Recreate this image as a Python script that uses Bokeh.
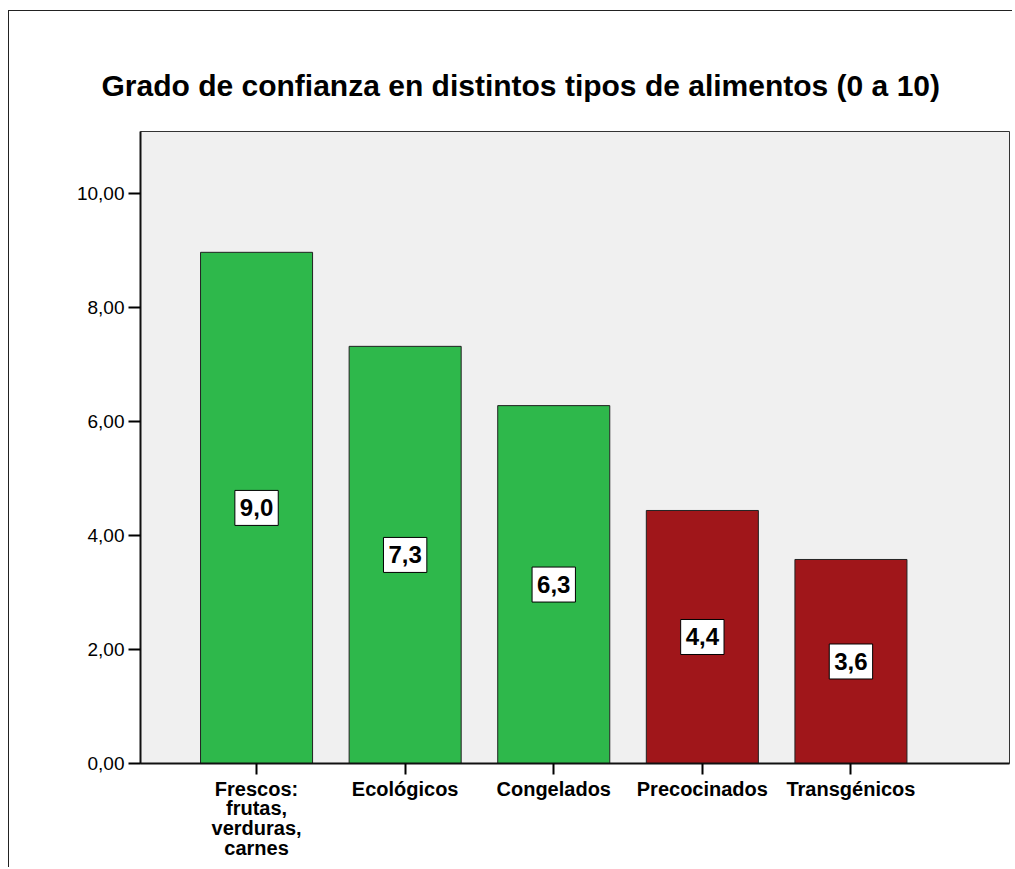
from bokeh.plotting import figure
from bokeh.models import Range1d, FixedTicker, ColumnDataSource
from bokeh.core.properties import value
from bokeh.embed import file_html
from bokeh.resources import INLINE

categories = ["Frescos:\nfrutas,\nverduras,\ncarnes", "Ecológicos", "Congelados", "Precocinados", "Transgénicos"]
values = [8.97, 7.32, 6.28, 4.44, 3.58]
bar_colors = ["#2EB84B", "#2EB84B", "#2EB84B", "#A0161A", "#A0161A"]
y_ticks = [0, 2, 4, 6, 8, 10]
y_tick_labels = ["0,00", "2,00", "4,00", "6,00", "8,00", "10,00"]
title_text = "Grado de confianza en distintos tipos de alimentos (0 a 10)"

FONT = "Liberation Sans"

xs = list(range(len(categories)))
labels = [f"{v:.1f}".replace(".", ",") for v in values]
src = ColumnDataSource(dict(x=xs, top=values, color=bar_colors,
                            mid=[v / 2 for v in values], lab=labels))

p = figure(width=1004, height=857, output_backend="svg", toolbar_location=None,
           x_range=Range1d(-0.781, 5.067), y_range=Range1d(0, 11.09),
           min_border_left=131, min_border_right=4, min_border_top=120, min_border_bottom=105,
           title=title_text)
p.styles = {"margin-left": "8px", "margin-top": "10px",
            "border-left": "1px solid #222", "border-top": "1px solid #222"}

p.title.text_font = FONT
p.title.text_font_size = "30px"
p.title.text_font_style = "bold"
p.title.text_color = "black"
p.title.align = "left"
p.title.offset = -39
p.title.standoff = 60

p.background_fill_color = "#F0F0F0"
p.border_fill_color = "white"
p.outline_line_color = "#333333"
p.outline_line_width = 1
p.grid.visible = False

p.vbar(x="x", top="top", width=0.754, bottom=0, source=src,
       fill_color="color", line_color="#222222", line_width=1)

p.text(x="x", y="mid", text="lab", source=src, text_font=value(FONT),
       text_font_size="24px", text_font_style="bold", text_align="center",
       text_baseline="middle", text_color="black",
       background_fill_color="white", border_line_color="black", border_line_width=1,
       padding=dict(left=5, right=5, top=9, bottom=9))

# y axis
ya = p.yaxis[0]
ya.ticker = FixedTicker(ticks=y_ticks)
ya.major_label_overrides = {t: l for t, l in zip(y_ticks, y_tick_labels)}
ya.minor_tick_line_color = None
ya.major_tick_in = 0
ya.major_tick_out = 12
ya.major_tick_line_width = 2
ya.major_tick_line_color = "black"
ya.axis_line_width = 2
ya.axis_line_color = "#111111"
ya.major_label_text_font = FONT
ya.major_label_text_font_size = "19px"
ya.major_label_text_color = "black"
ya.major_label_standoff = 4

# x axis
xa = p.xaxis[0]
xa.ticker = FixedTicker(ticks=xs)
xa.major_label_overrides = {i: c for i, c in zip(xs, categories)}
xa.minor_tick_line_color = None
xa.major_tick_in = 0
xa.major_tick_out = 11
xa.major_tick_line_width = 2
xa.major_tick_line_color = "black"
xa.axis_line_width = 2
xa.axis_line_color = "#111111"
xa.major_label_text_font = FONT
xa.major_label_text_font_size = "20px"
xa.major_label_text_font_style = "bold"
xa.major_label_text_color = "black"
xa.major_label_standoff = 3
xa.major_label_text_line_height = 0.9

open("out.html", "w").write(file_html(p, INLINE))
